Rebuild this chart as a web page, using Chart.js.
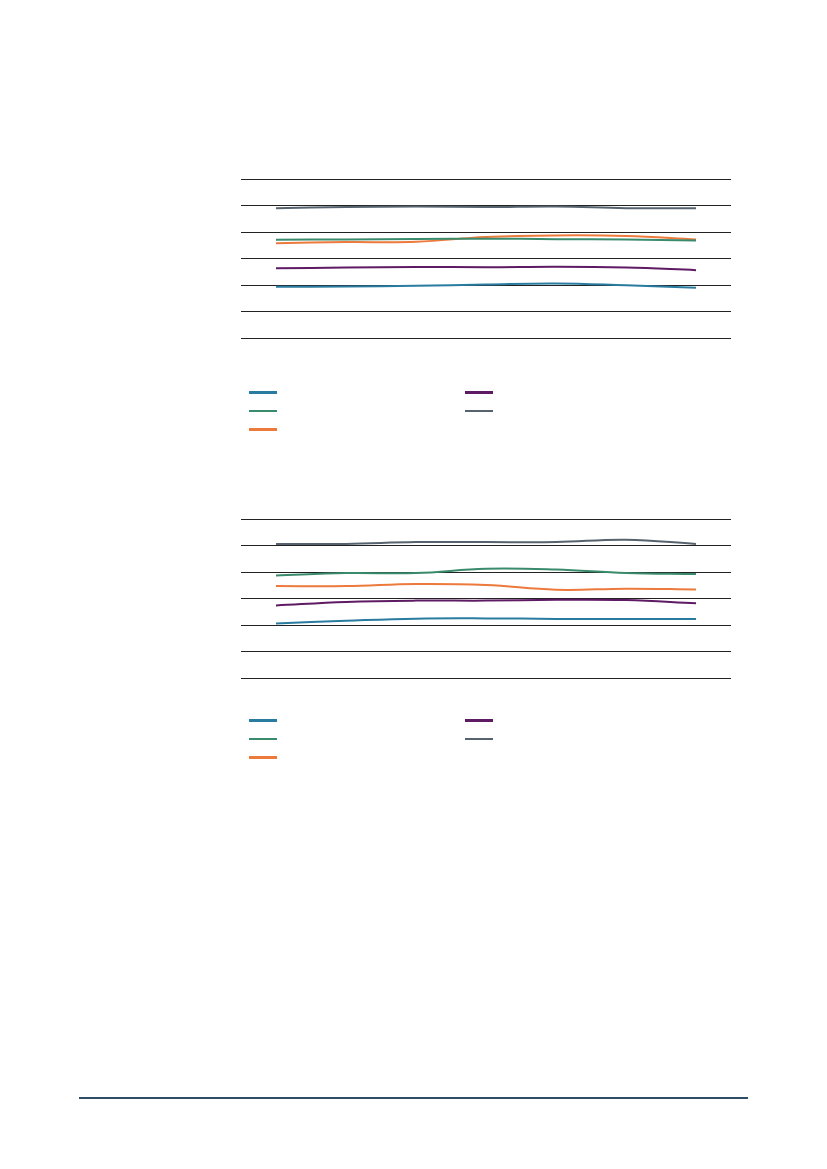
<!DOCTYPE html>
<html>
<head>
<meta charset="utf-8">
<script src="https://cdn.jsdelivr.net/npm/chart.js@4"></script>
<style>
  body { margin: 0; background: #fff; width: 827px; height: 1169px; position: relative; font-family: "Open Sans", sans-serif; }
  .box { position: absolute; left: 241px; width: 490px; height: 163px; }
  .box canvas { display: block; }
  .legend { position: absolute; left: 249px; width: 260px; height: 60px; }
  .legend span { position: absolute; width: 28px; height: 2.5px; }
  #footer { position: absolute; left: 79px; top: 1097px; width: 669px; height: 1.5px; background: #2d4d66; }
</style>
</head>
<body>
<div class="box" style="top:177px"><canvas id="chart1" width="490" height="163"></canvas></div>
<div class="legend" id="legend1" style="top:391px"></div>
<div class="box" style="top:517px"><canvas id="chart2" width="490" height="163"></canvas></div>
<div class="legend" id="legend2" style="top:719px"></div>
<div id="footer"></div>

<script>
// -- data
const categories = ["1", "2", "3", "4", "5", "6", "7"];
const yTicks = [0, 10, 20, 30, 40, 50, 60];

// chart 1
const c1Blue   = [19.3, 19.4, 19.7, 20.2, 20.6, 19.9, 19.0];
const c1Green  = [37.1, 37.2, 37.4, 37.5, 37.3, 37.2, 36.8];
const c1Orange = [35.8, 36.2, 36.3, 38.1, 38.7, 38.5, 37.2];
const c1Purple = [26.3, 26.6, 26.8, 26.7, 26.9, 26.6, 25.6];
const c1Gray   = [49.0, 49.4, 49.6, 49.4, 49.6, 49.0, 49.0];

// chart 2
const c2Blue   = [20.6, 21.6, 22.4, 22.5, 22.3, 22.3, 22.3];
const c2Green  = [38.7, 39.6, 39.6, 41.2, 40.9, 39.6, 39.2];
const c2Orange = [34.7, 34.7, 35.5, 35.1, 33.3, 33.7, 33.4];
const c2Purple = [27.4, 28.7, 29.2, 29.2, 29.5, 29.4, 28.2];
const c2Gray   = [50.6, 50.6, 51.3, 51.3, 51.3, 52.2, 50.6];

const colors = {
  blue: "#2a7ba0",
  green: "#3a8a6c",
  orange: "#ec7a3c",
  purple: "#5f1a64",
  gray: "#56636e",
};

function ds(data, color) {
  return {
    label: "",
    data: data,
    borderColor: color,
    backgroundColor: color,
    borderWidth: 2,
    pointRadius: 0,
    tension: 0.4,
    fill: false,
  };
}

function makeChart(id, sets) {
  const ctx = document.getElementById(id).getContext("2d");
  return new Chart(ctx, {
    type: "line",
    data: { labels: categories, datasets: sets },
    options: {
      responsive: false,
      animation: false,
      layout: { padding: { top: 2, bottom: 2, left: 0, right: 0 } },
      plugins: { legend: { display: false }, tooltip: { enabled: false } },
      scales: {
        x: {
          display: false,
          offset: true,
        },
        y: {
          min: yTicks[0],
          max: yTicks[yTicks.length - 1],
          afterBuildTicks: (axis) => (axis.ticks = yTicks.map((v) => ({ value: v }))),
          ticks: { display: false },
          grid: { color: "#222", lineWidth: 1, drawTicks: false },
          border: { display: false },
        },
      },
    },
  });
}

// legend, filled column by column (3 rows)
function buildLegend(id, chart) {
  const el = document.getElementById(id);
  chart.data.datasets.forEach((d, i) => {
    const s = document.createElement("span");
    s.style.left = (i < 3 ? 0 : 216) + "px";
    s.style.top = ((i % 3) * 18.7) + "px";
    s.style.background = d.borderColor;
    el.appendChild(s);
  });
}

const chart1 = makeChart("chart1", [
  ds(c1Blue, colors.blue),
  ds(c1Green, colors.green),
  ds(c1Orange, colors.orange),
  ds(c1Purple, colors.purple),
  ds(c1Gray, colors.gray),
]);
const chart2 = makeChart("chart2", [
  ds(c2Blue, colors.blue),
  ds(c2Green, colors.green),
  ds(c2Orange, colors.orange),
  ds(c2Purple, colors.purple),
  ds(c2Gray, colors.gray),
]);
buildLegend("legend1", chart1);
buildLegend("legend2", chart2);
</script>
</body>
</html>
